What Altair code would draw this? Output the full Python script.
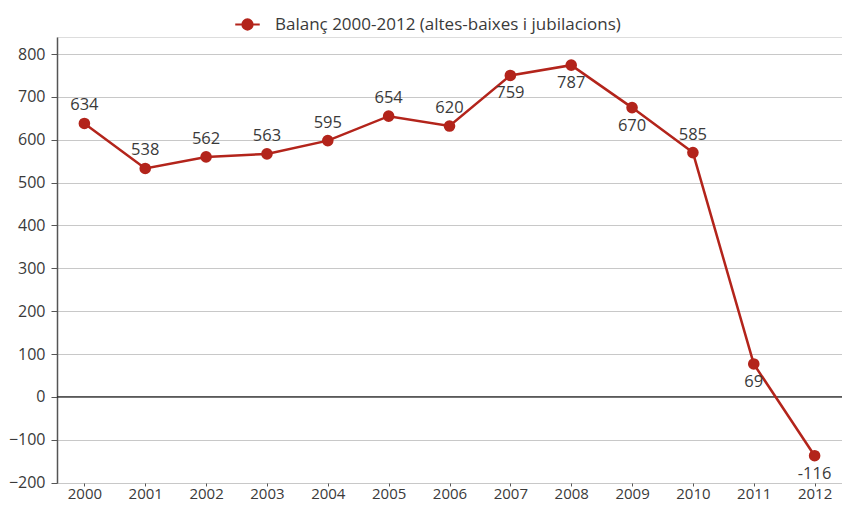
import altair as alt
import pandas as pd

years = ["2000", "2001", "2002", "2003", "2004", "2005", "2006",
         "2007", "2008", "2009", "2010", "2011", "2012"]
# positions of the markers as drawn in the reference
values = [638, 533, 560, 567, 598, 655, 632, 750, 774, 675, 570, 77, -137]
# printed labels
labels = ["634", "538", "562", "563", "595", "654", "620",
          "759", "787", "670", "585", "69", "-116"]
label_pos = ["above", "above", "above", "above", "above", "above", "above",
             "below", "below", "below", "above", "below", "below"]
series = "Balanç 2000-2012 (altes-baixes i jubilacions)"

df = pd.DataFrame({"year": years, "value": values, "label": labels,
                   "pos": label_pos, "serie": series})

RED = "#B3241B"
TXT = "#3a3a3a"
FONT = "Open Sans"

x = alt.X("year:O", title=None,
          scale=alt.Scale(type="point", padding=0.45),
          axis=alt.Axis(labelAngle=0, domain=False, tickSize=3, ticks=True,
                        tickColor="#555", labelPadding=0, labelFontSize=15,
                        labelColor=TXT, labelFont=FONT, grid=False))
y = alt.Y("value:Q", title=None,
          scale=alt.Scale(domain=[-200.7, 839.7], nice=False, zero=False),
          axis=alt.Axis(values=list(range(-200, 801, 100)), tickSize=6,
                        tickColor="#555", domainColor="#555", domainWidth=1.5,
                        labelPadding=6, labelFontSize=16, labelColor=TXT,
                        labelFont=FONT, gridColor="#c8c8c8", gridWidth=1.2))

base = alt.Chart(df)

line = base.mark_line(color=RED, strokeWidth=2.5).encode(x=x, y=y)

points = base.mark_circle(size=135, opacity=1).encode(
    x="year:O", y="value:Q",
    color=alt.Color("serie:N", title=None,
                    scale=alt.Scale(domain=[series], range=[RED]),
                    legend=alt.Legend(
                        orient="none", legendX=177, legendY=-26,
                        symbolType="M-1,0L1,0M-0.42,0A0.42,0.42,0,1,1,0.42,0A0.42,0.42,0,1,1,-0.42,0Z",
                        symbolSize=600, symbolStrokeColor=RED,
                        symbolFillColor=RED, symbolStrokeWidth=2,
                        symbolOpacity=1, labelFontSize=17, labelFont=FONT,
                        labelColor=TXT, labelOffset=14, padding=0,
                        labelLimit=600)))

zero = alt.Chart(pd.DataFrame({"z": [0]})).mark_rule(
    color="#222", strokeWidth=1.2).encode(y="z:Q")

above = base.transform_filter(alt.datum.pos == "above").mark_text(
    dy=-18, fontSize=16.5, font=FONT, color=TXT).encode(
    x="year:O", y="value:Q", text="label:N")
below = base.transform_filter(alt.datum.pos == "below").mark_text(
    dy=18, fontSize=16.5, font=FONT, color=TXT).encode(
    x="year:O", y="value:Q", text="label:N")

chart = alt.layer(zero, line, points, above, below).properties(
    width=785, height=446,
    autosize=alt.AutoSizeParams(type="none"),
    padding={"left": 49, "top": 29, "right": 0, "bottom": 20},
).configure_view(stroke=None).configure(background="white")

chart.save("out.html", embed_options={"renderer": "svg", "actions": False})
